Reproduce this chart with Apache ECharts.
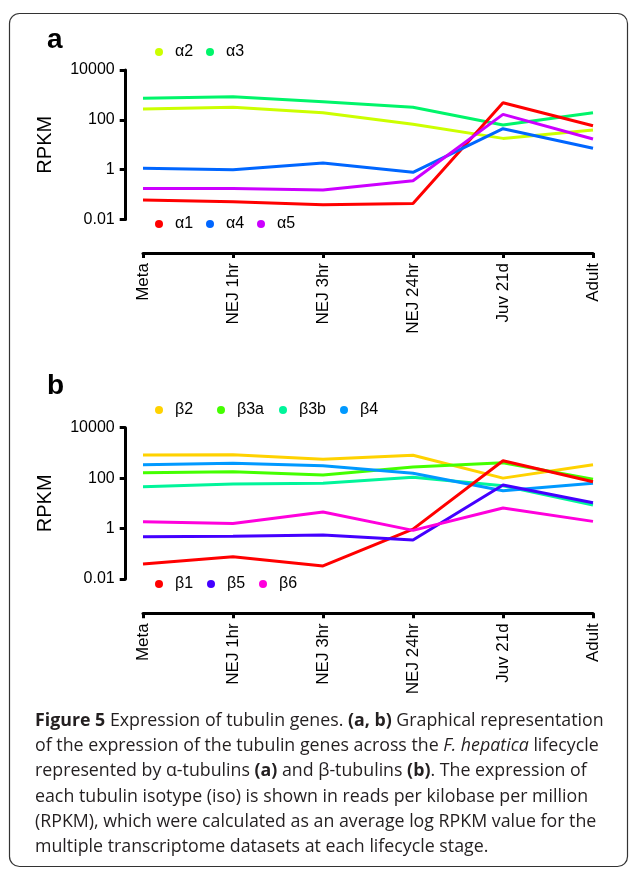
<!DOCTYPE html>
<html>
<head>
<meta charset="utf-8">
<script src="https://cdn.jsdelivr.net/npm/echarts@6/dist/echarts.min.js"></script>
<style>
  html, body { margin: 0; padding: 0; background: #fff; }
  #chart { width: 629px; height: 872px; }
</style>
</head>
<body>
<div id="chart"></div>
<script>
// ---------- data ----------
const categories = ['Meta', 'NEJ 1hr', 'NEJ 3hr', 'NEJ 24hr', 'Juv 21d', 'Adult'];

// panel a: alpha tubulins (RPKM)
const alpha1 = [0.060, 0.051, 0.039, 0.044, 486, 58];
const alpha2 = [272, 318, 193, 66, 18, 39];
const alpha3 = [730, 847, 533, 318, 62, 193];
const alpha4 = [1.13, 0.99, 1.84, 0.78, 44, 7.2];
const alpha5 = [0.177, 0.177, 0.152, 0.358, 166, 17];

// panel b: beta tubulins (RPKM)
const beta1 = [0.039, 0.076, 0.033, 0.95, 490, 72];
const beta2 = [826, 837, 557, 803, 100, 340];
const beta3a = [164, 180, 133, 275, 408, 90];
const beta3b = [46, 58, 62, 108, 50, 8.6];
const beta4 = [340, 386, 310, 155, 31.6, 62];
const beta5 = [0.47, 0.50, 0.55, 0.35, 53, 10.6];
const beta6 = [1.86, 1.6, 4.5, 0.85, 6.5, 1.93];

// y tick values (RPKM) shown on axes
const yTickLabels = ['0.01', '1', '100', '10000'];

const FONT = 'Liberation Sans, Arial, sans-serif';
const CAP_FONT = '"Open Sans", sans-serif';
const CAP_SIZE = 17.8;

const alphaSeries = [
  { name: 'α2', data: alpha2, color: '#CCFF00' },
  { name: 'α3', data: alpha3, color: '#00F56A' },
  { name: 'α1', data: alpha1, color: '#FF0000' },
  { name: 'α4', data: alpha4, color: '#0066FF' },
  { name: 'α5', data: alpha5, color: '#CC00FF' }
];
const betaSeries = [
  { name: 'β2', data: beta2, color: '#FFD200' },
  { name: 'β3a', data: beta3a, color: '#44FF00' },
  { name: 'β3b', data: beta3b, color: '#00F59A' },
  { name: 'β4', data: beta4, color: '#0099FF' },
  { name: 'β1', data: beta1, color: '#FF0000' },
  { name: 'β5', data: beta5, color: '#4400FF' },
  { name: 'β6', data: beta6, color: '#FF00DD' }
];

function mkSeries(list, idx) {
  return list.map(s => ({
    name: s.name,
    type: 'line',
    xAxisIndex: idx, yAxisIndex: idx,
    data: s.data.map(v => Math.log10(v)),
    symbol: 'circle', showSymbol: false,
    itemStyle: { color: s.color },
    lineStyle: { color: s.color, width: 3 },
    emphasis: { disabled: true },
    silent: true,
    animation: false
  }));
}

function yFmt(v) {
  const val = Math.pow(10, v);
  const s = v < 0 ? val.toFixed(-v) : String(Math.round(val));
  return yTickLabels.indexOf(s) >= 0 ? s : '';
}

function mkX(idx, off) {
  return {
    type: 'category', gridIndex: idx, data: categories, boundaryGap: false, offset: off,
    axisLine: { onZero: false, lineStyle: { color: '#000', width: 3 } },
    axisTick: { show: true, length: 5, lineStyle: { color: '#000', width: 3 } },
    axisLabel: { rotate: 90, fontSize: 17, color: '#000', margin: 10, fontFamily: FONT },
    splitLine: { show: false }
  };
}
function mkY(idx) {
  return {
    type: 'value', gridIndex: idx, min: -2, max: 4, interval: 2, offset: 17.3,
    axisLine: { show: true, onZero: false, lineStyle: { color: '#000', width: 3 } },
    axisTick: { show: true, length: 6, lineStyle: { color: '#000', width: 3 } },
    axisLabel: { formatter: yFmt, fontSize: 16, color: '#000', margin: 11, fontFamily: FONT },
    splitLine: { show: false },
    name: 'RPKM', nameLocation: 'middle', nameRotate: 90, nameGap: 70,
    nameTextStyle: { fontSize: 20, color: '#000', fontFamily: FONT }
  };
}

// one legend per item so each dot sits where the reference puts it
const legendItems = [
  ['α2', 159, 52], ['α3', 210, 52],
  ['α1', 159, 224], ['α4', 210, 224], ['α5', 261, 224],
  ['β2', 159, 410], ['β3a', 221, 410], ['β3b', 283, 410], ['β4', 344, 410],
  ['β1', 159, 584], ['β5', 211, 584], ['β6', 263, 584]
];
const legends = legendItems.map(([name, cx, cy]) => ({
  data: [name], left: cx - 4, top: cy - 9, orient: 'horizontal',
  icon: 'circle', itemWidth: 22, itemHeight: 8, itemGap: 0, padding: 0,
  selectedMode: false,
  textStyle: { fontSize: 16, color: '#000', fontFamily: FONT, lineHeight: 18 }
}));

const capLines = [
  '{b|Figure 5} Expression of tubulin genes. {b|(a, b)} Graphical representation',
  'of the expression of the tubulin genes across the {i|F. hepatica} lifecycle',
  'represented by α-tubulins {b|(a)} and β-tubulins {b|(b)}. The expression of',
  'each tubulin isotype (iso) is shown in reads per kilobase per million',
  '(RPKM), which were calculated as an average log RPKM value for the',
  'multiple transcriptome datasets at each lifecycle stage.'
];

const graphics = [
  { type: 'rect', shape: { x: 9.5, y: 13.5, width: 618, height: 853, r: 10 },
    style: { fill: 'none', stroke: '#333', lineWidth: 1.2 }, silent: true },
  { type: 'text', left: 47, top: 26, style: { text: 'a', font: 'bold 28px ' + FONT, fill: '#000' } },
  { type: 'text', left: 47, top: 372, style: { text: 'b', font: 'bold 28px ' + FONT, fill: '#000' } }
];
capLines.forEach((t, i) => {
  graphics.push({
    type: 'text', left: 35, top: 712 + i * 25.2,
    style: {
      text: t, fill: '#231F20', font: CAP_SIZE + 'px ' + CAP_FONT,
      rich: {
        b: { fontWeight: 'bold', fontSize: CAP_SIZE, fontFamily: CAP_FONT, fill: '#231F20' },
        i: { fontStyle: 'italic', fontSize: CAP_SIZE, fontFamily: CAP_FONT, fill: '#231F20' }
      }
    }
  });
});

const option = {
  backgroundColor: '#fff',
  animation: false,
  textStyle: { fontFamily: FONT },
  grid: [
    { left: 143, top: 70, width: 450, height: 149.5 },
    { left: 143, top: 427.7, width: 450, height: 151.3 }
  ],
  xAxis: [mkX(0, 33.5), mkX(1, 34.3)],
  yAxis: [mkY(0), mkY(1)],
  legend: legends,
  series: mkSeries(alphaSeries, 0).concat(mkSeries(betaSeries, 1)),
  graphic: graphics
};

const chart = echarts.init(document.getElementById('chart'), null, { renderer: 'canvas' });
chart.setOption(option);
</script>
</body>
</html>
